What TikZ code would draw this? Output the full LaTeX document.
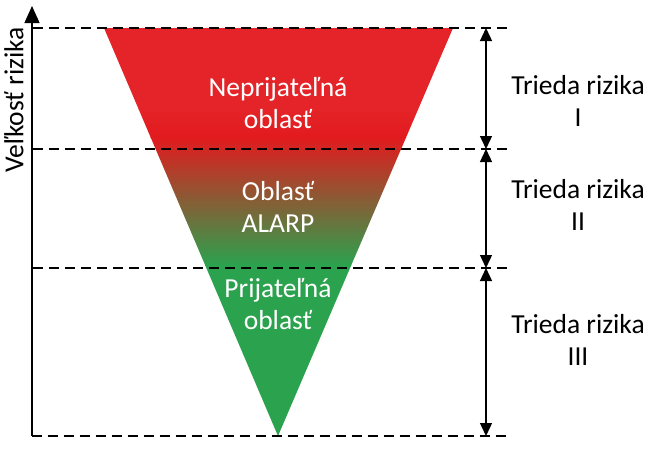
\documentclass[tikz,border=0pt]{standalone}
\usepackage{fontspec}
\setmainfont{Carlito}
\usetikzlibrary{arrows.meta,positioning}
\definecolor{riskred}{RGB}{228,36,40}
\definecolor{riskdeep}{RGB}{226,26,30}
\definecolor{riskgreen}{RGB}{43,162,78}
\tikzset{
  lvl/.style={black, line width=1.3pt, dash pattern=on 10pt off 6pt},
  axarr/.style={-{Triangle[length=17pt,width=15pt]}, black, line width=1.3pt},
  clsarr/.style={{Triangle[length=13pt,width=12pt]}-{Triangle[length=13pt,width=12pt]}, black, line width=1.3pt},
  zlab/.style={font=\fontsize{27.5}{32}\selectfont, text=white, align=center},
  clab/.style={font=\fontsize{27.5}{32}\selectfont, text=black, align=center},
}
\begin{document}
\begin{tikzpicture}[x=1pt, y=-1pt]
        \useasboundingbox (0,0) rectangle (650,450);
        % levels and triangle corners
        \coordinate (tl) at (104,28); \coordinate (tr) at (453,28);
        \coordinate (apex) at (278,436);
        \coordinate (orig) at (32,436); \coordinate (ytop) at (32,6);
        % funnel with red to green fade
        \begin{scope}
          \clip (tl) -- (tr) -- (apex) -- cycle;
          \fill[riskred] (100,28) rectangle (460,110);
          \shade[top color=riskred, bottom color=riskdeep] (100,109.5) rectangle (460,137.5);
          \shade[top color=riskdeep, bottom color=riskgreen] (100,137) rectangle (460,265.5);
          \fill[riskgreen] (100,265) rectangle (460,437);
        \end{scope}
        % dashed levels
        \draw[lvl] (33,28) -- (510,28);
        \draw[lvl] (33,149) -- (510,149);
        \draw[lvl] (33,268) -- (510,268);
        \draw[lvl] (orig) -- (510,436);
        % axis
        \draw[axarr] (orig) -- (ytop);
        \node[clab, rotate=90] (axlab) at (14,100) {Veľkosť rizika};
        % zone texts
        \node[zlab] (zone1) at (278,103) {Neprijateľná\\oblasť};
        \node[zlab] (zone2) at (278,207) {Oblasť\\ALARP};
        \node[zlab] (zone3) at (278,304) {Prijateľná\\oblasť};
        % class arrows
        \coordinate (c0) at (486,28); \coordinate (c1) at (486,149);
        \coordinate (c2) at (486,268); \coordinate (c3) at (486,436);
        \draw[clsarr] (c0) -- (c1);
        \draw[clsarr] (c1) -- (c2);
        \draw[clsarr] (c2) -- (c3);
        \node[clab] (cls1) at (578,101) {Trieda rizika\\I};
        \node[clab] (cls2) at (578,205) {Trieda rizika\\II};
        \node[clab] (cls3) at (578,340) {Trieda rizika\\III};
      \end{tikzpicture}
\end{document}
